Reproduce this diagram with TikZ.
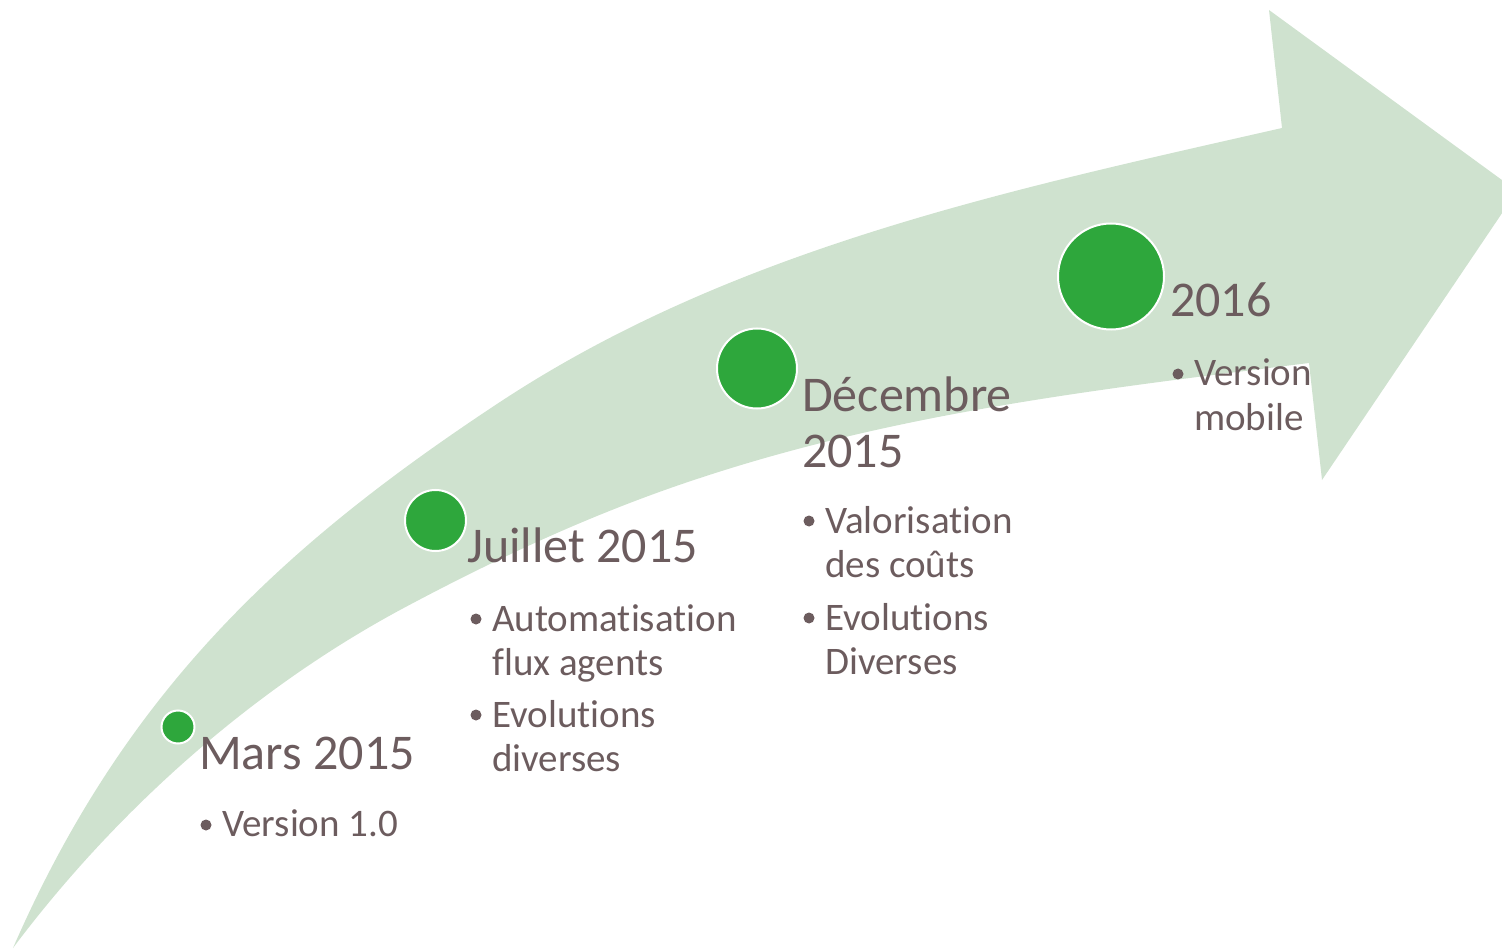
\documentclass[tikz,border=0pt]{standalone}
\usepackage{fontspec}
\setmainfont{Carlito}[Ligatures={NoCommon,NoRare}]
\newcommand{\nolig}{\kern0pt{}}
\definecolor{arrowfill}{HTML}{CFE2CF}
\definecolor{dotgreen}{HTML}{2EA73C}
\definecolor{txt}{HTML}{6C5C5E}
\begin{document}
\begin{tikzpicture}[x=1pt,y=-1pt,
  milestone/.style={circle, fill=dotgreen, draw=white, line width=2pt, inner sep=0pt},
  title/.style={anchor=base west, inner sep=0pt, text=txt, font=\fontsize{50}{55}\selectfont},
  item/.style={anchor=base west, inner sep=0pt, text=txt, font=\fontsize{39}{44}\selectfont},
  bul/.style={circle, fill=txt, inner sep=0pt, minimum size=11pt}]
\useasboundingbox (0,0) rectangle (1502,949);
\begin{scope}
\clip (0,0) rectangle (1502,949);
\fill[arrowfill] (13,948) .. controls (125,691) and (283,545) .. (500,402)
  .. controls (734,248) and (1009,190) .. (1282,128)
  -- (1269,10) -- (1517,191) -- (1322,480) -- (1309,363)
  .. controls (1101,389) and (900,412) .. (700,478)
  .. controls (596,512) and (497,558) .. (400,610)
  .. controls (250,691) and (115,812) .. (13,948) -- cycle;
\end{scope}

% milestones
\node[milestone, minimum size=33pt] (m1) at (178,727) {};
\node[milestone, minimum size=61pt] (m2) at (435.5,520.5) {};
\node[milestone, minimum size=80pt] (m3) at (757,368.5) {};
\node[milestone, minimum size=106pt] (m4) at (1111,276.5) {};

% Mars 2015
\node[title] (t1) at (199,769) {Mars 2015};
\node[item] (i11) at (222,836) {Version 1.0};
\node[bul] (b11) at (206,825) {};

% Juillet 2015
\node[title] (t2) at (467,562) {Juillet 2015};
\node[item] (i21) at (492,631) {\parbox[t]{300pt}{Automat\nolig isat\nolig ion\\flux agents}};
\node[bul] (b21) at (476,619) {};
\node[item] (i22) at (492,727) {\parbox[t]{300pt}{Evolut\nolig ions\\diverses}};
\node[bul] (b22) at (476,715) {};

% Decembre 2015
\node[title] (t3) at (802,412) {\parbox[t]{300pt}{Décembre\\2015}};
\node[item] (i31) at (825,533) {\parbox[t]{300pt}{Valorisat\nolig ion\\des coûts}};
\node[bul] (b31) at (809,521) {};
\node[item] (i32) at (825,630) {\parbox[t]{300pt}{Evolut\nolig ions\\Diverses}};
\node[bul] (b32) at (809,618) {};

% 2016
\node[title] (t4) at (1170,317) {2016};
\node[item] (i41) at (1194,386) {\parbox[t]{300pt}{Version\\mobile}};
\node[bul] (b41) at (1178,374) {};
\end{tikzpicture}
\end{document}
